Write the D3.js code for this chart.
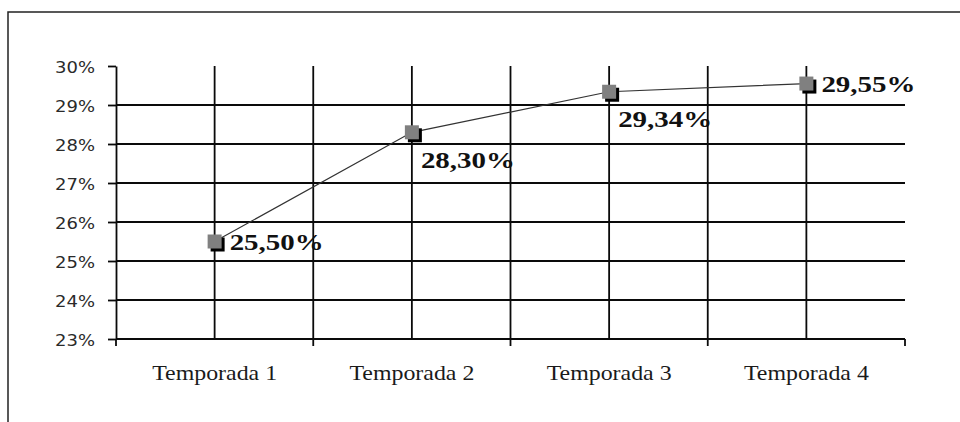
<!DOCTYPE html>
<html>
<head>
<meta charset="utf-8">
<script src="https://cdn.jsdelivr.net/npm/d3@7"></script>
<style>
    html, body { margin: 0; padding: 0; background: #fff; }
    svg { display: block; }
</style>
</head>
<body>
<div id="chart"></div>
<script>
// Data
const categories = ['Temporada 1', 'Temporada 2', 'Temporada 3', 'Temporada 4']
const values = [0.2550, 0.2830, 0.2934, 0.2955]
const valueLabels = ['25,50%', '28,30%', '29,34%', '29,55%']
const labelSides = ['right', 'below', 'below', 'right']
const yTicks = [0.23, 0.24, 0.25, 0.26, 0.27, 0.28, 0.29, 0.30]
const yTickLabels = ['23%', '24%', '25%', '26%', '27%', '28%', '29%', '30%']

const width = 960
const height = 422
const plot = { left: 116, right: 905, top: 66, bottom: 339 }
const ink = '#0a0a0a'
const lineW = 1.8

const svg = d3.select('#chart').append('svg')
    .attr('width', width)
    .attr('height', height)

// Frame (cropped: only top and left edges visible)
svg.append('path')
    .attr('d', `M8,${height}V12H${width}`)
    .attr('fill', 'none')
    .attr('stroke', '#222')
    .attr('stroke-width', 1.5)

// Scales
const x = d3.scaleBand()
    .domain(categories)
    .range([plot.left, plot.right])
    .padding(0)
const y = d3.scaleLinear()
    .domain([0.23, 0.30])
    .range([plot.bottom, plot.top])
const cx = d => x(d) + x.bandwidth() / 2

// Horizontal gridlines (none at the top value)
svg.append('g')
    .selectAll('line')
    .data(yTicks.slice(1, -1))
    .join('line')
    .attr('x1', plot.left)
    .attr('x2', plot.right)
    .attr('y1', d => y(d))
    .attr('y2', d => y(d))
    .attr('stroke', ink)
    .attr('stroke-width', lineW)

// Vertical gridlines: category centres and inner boundaries
const vLines = categories.map(cx).concat(categories.slice(1).map(d => x(d)))
svg.append('g')
    .selectAll('line')
    .data(vLines)
    .join('line')
    .attr('x1', d => d)
    .attr('x2', d => d)
    .attr('y1', plot.top)
    .attr('y2', plot.bottom)
    .attr('stroke', ink)
    .attr('stroke-width', lineW)

// Y axis
const yAxis = d3.axisLeft(y)
    .tickValues(yTicks)
    .tickFormat((d, i) => yTickLabels[i])
    .tickSizeInner(8)
    .tickSizeOuter(0)
    .tickPadding(13)

const gy = svg.append('g')
    .attr('transform', `translate(${plot.left},0)`)
    .call(yAxis)
gy.select('.domain').attr('stroke', ink).attr('stroke-width', lineW)
gy.selectAll('.tick line').attr('stroke', ink).attr('stroke-width', lineW)
gy.selectAll('.tick text')
    .attr('font-family', '"DejaVu Sans", Verdana, sans-serif')
    .attr('font-size', 16.5)
    .attr('fill', '#2a2a2a')
    .attr('dy', '0.4em')
    .attr('textLength', 40)
    .attr('lengthAdjust', 'spacingAndGlyphs')

// X axis: ticks on category boundaries, labels centred
const boundaries = categories.map(d => x(d)).concat([plot.right])
const gx = svg.append('g')
svg.append('line')
    .attr('x1', plot.left)
    .attr('x2', plot.right)
    .attr('y1', plot.bottom)
    .attr('y2', plot.bottom)
    .attr('stroke', ink)
    .attr('stroke-width', lineW)
gx.selectAll('line')
    .data(boundaries)
    .join('line')
    .attr('x1', d => d)
    .attr('x2', d => d)
    .attr('y1', plot.bottom)
    .attr('y2', plot.bottom + 7)
    .attr('stroke', ink)
    .attr('stroke-width', lineW)
gx.selectAll('text')
    .data(categories)
    .join('text')
    .attr('x', d => cx(d) - 62.5)
    .attr('y', plot.bottom + 41)
    .attr('font-family', '"Liberation Serif", "Times New Roman", serif')
    .attr('font-size', 22)
    .attr('fill', '#1a1a1a')
    .attr('textLength', 125)
    .attr('lengthAdjust', 'spacingAndGlyphs')
    .text(d => d)

// Series line
const points = categories.map((c, i) => [cx(c), y(values[i])])
svg.append('path')
    .attr('d', d3.line()(points))
    .attr('fill', 'none')
    .attr('stroke', '#333')
    .attr('stroke-width', 1.2)

// Markers with drop shadow
const size = 14
const markers = svg.append('g')
    .selectAll('g')
    .data(points)
    .join('g')
    .attr('transform', d => `translate(${d[0]},${d[1]})`)
markers.append('rect')
    .attr('x', -size / 2 + 3)
    .attr('y', -size / 2 + 3)
    .attr('width', size)
    .attr('height', size)
    .attr('fill', '#000')
markers.append('rect')
    .attr('x', -size / 2)
    .attr('y', -size / 2)
    .attr('width', size)
    .attr('height', size)
    .attr('fill', '#808080')

// Data labels
svg.append('g')
    .selectAll('text')
    .data(points)
    .join('text')
    .attr('x', (d, i) => labelSides[i] === 'right' ? d[0] + 15 : d[0] + 9)
    .attr('y', (d, i) => labelSides[i] === 'right' ? d[1] + 8.5 : d[1] + 35.5)
    .attr('font-family', '"Liberation Serif", "Times New Roman", serif')
    .attr('font-weight', 'bold')
    .attr('font-size', 23)
    .attr('fill', '#111')
    .attr('textLength', 94)
    .attr('lengthAdjust', 'spacingAndGlyphs')
    .text((d, i) => valueLabels[i])
</script>
</body>
</html>
